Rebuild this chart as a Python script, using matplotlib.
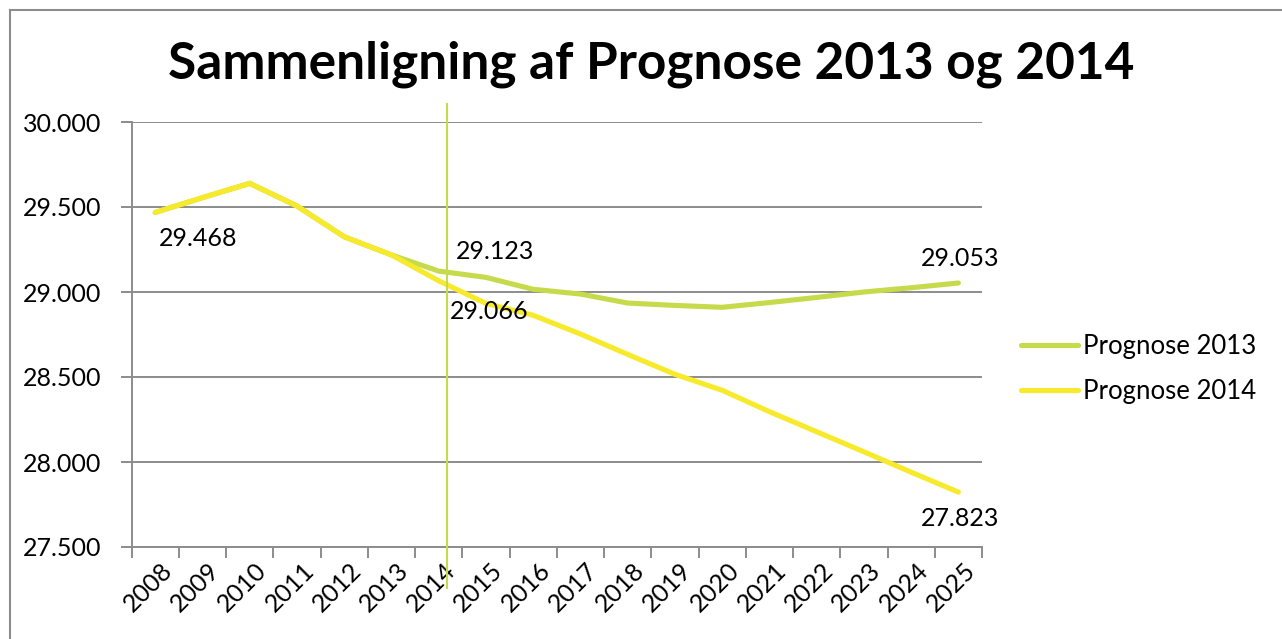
import matplotlib
matplotlib.use("Agg")
import matplotlib.pyplot as plt
from matplotlib.lines import Line2D
from matplotlib.ticker import FuncFormatter, FixedLocator
from matplotlib.transforms import ScaledTranslation

plt.rcParams['font.family'] = ['Lato', 'DejaVu Sans']

title = "Sammenligning af Prognose 2013 og 2014"
years = [str(y) for y in range(2008, 2026)]
prognose_2013 = [29468, 29555, 29639, 29506, 29325, 29218, 29123, 29086, 29016, 28988,
                 28935, 28921, 28910, 28938, 28968, 29000, 29025, 29053]
prognose_2014 = [29468, 29555, 29639, 29506, 29325, 29218, 29066, 28933, 28863, 28753,
                 28633, 28516, 28422, 28296, 28178, 28060, 27940, 27823]
series_names = ["Prognose 2013", "Prognose 2014"]
yticks = [27500, 28000, 28500, 29000, 29500, 30000]
divider_x = 6.18  # vertical marker just after 2014

c2013 = "#C6DB4C"
c2014 = "#F7EA2C"
grid_c = "#8C8C8C"

W, H = 1282, 639
fig = plt.figure(figsize=(W / 100, H / 100), dpi=100)
ax = fig.add_axes([131.6 / W, 1 - 547 / H, (982 - 131.6) / W, (547 - 122) / H])

x = list(range(len(years)))
ax.plot(x, prognose_2013, color=c2013, lw=3.7, solid_capstyle='round', label=series_names[0], zorder=3)
ax.plot(x, prognose_2014, color=c2014, lw=3.7, solid_capstyle='round', label=series_names[1], zorder=4)

ax.set_xlim(-0.5, len(years) - 0.5)
ax.set_ylim(yticks[0], yticks[-1])
ax.set_yticks(yticks)
ax.yaxis.set_major_formatter(FuncFormatter(lambda v, p: f"{int(v):,}".replace(",", ".")))
ax.grid(axis='y', color=grid_c, lw=1.4)
ax.set_axisbelow(True)

ax.set_xticks(x)
ax.set_xticklabels(years, rotation=45, ha='right', va='top', rotation_mode='anchor')
ax.tick_params(axis='x', which='major', length=0, pad=8, labelsize=18)
shift = ScaledTranslation(5 / 100, 0, fig.dpi_scale_trans)
for lbl in ax.get_xticklabels():
    lbl.set_transform(lbl.get_transform() + shift)
ax.xaxis.set_minor_locator(FixedLocator([i - 0.5 for i in range(len(years) + 1)]))
ax.tick_params(axis='x', which='minor', length=8, width=1.4, color=grid_c, direction='out')
ax.tick_params(axis='y', length=8, width=1.4, color=grid_c, pad=14, labelsize=18)

for s in ['top', 'right']:
    ax.spines[s].set_visible(False)
for s in ['left', 'bottom']:
    ax.spines[s].set_color(grid_c)
    ax.spines[s].set_linewidth(1.4)

ax.axvline(divider_x, ymin=-0.097, ymax=1.043, color=c2013, lw=1.5, clip_on=False, zorder=5)

lab_kw = dict(textcoords='offset pixels', fontsize=18, color='black', va='center', zorder=6)
ax.annotate(f"{prognose_2014[0]:,}".replace(",", "."), (0, prognose_2014[0]), xytext=(43, -26), ha='center', **lab_kw)
ax.annotate(f"{prognose_2013[6]:,}".replace(",", "."), (6, prognose_2013[6]), xytext=(56, 20), ha='center', **lab_kw)
ax.annotate(f"{prognose_2014[6]:,}".replace(",", "."), (6, prognose_2014[6]), xytext=(50, -31), ha='center', **lab_kw)
ax.annotate(f"{prognose_2013[-1]:,}".replace(",", "."), (17, prognose_2013[-1]), xytext=(2, 24), ha='center', **lab_kw)
ax.annotate(f"{prognose_2014[-1]:,}".replace(",", "."), (17, prognose_2014[-1]), xytext=(2, -26), ha='center', **lab_kw)

leg = fig.legend(handles=[Line2D([], [], color=c2013, lw=3.7, solid_capstyle='round'),
                          Line2D([], [], color=c2014, lw=3.7, solid_capstyle='round')],
                 labels=series_names, loc='center left', bbox_to_anchor=(1011 / W, 1 - 369 / H),
                 frameon=False, fontsize=18.5, handlelength=2.2, handletextpad=0.2, labelspacing=0.8,
                 borderaxespad=0)

fig.text(651 / W, 1 - 64 / H, title, ha='center', va='center', fontsize=37, fontweight='bold')

fig.add_artist(Line2D([10 / W, 10 / W], [0, 1 - 10 / H], color=grid_c, lw=1.5))
fig.add_artist(Line2D([10 / W, 1], [1 - 10 / H, 1 - 10 / H], color=grid_c, lw=1.5))

fig.savefig("out.png", dpi=100)
